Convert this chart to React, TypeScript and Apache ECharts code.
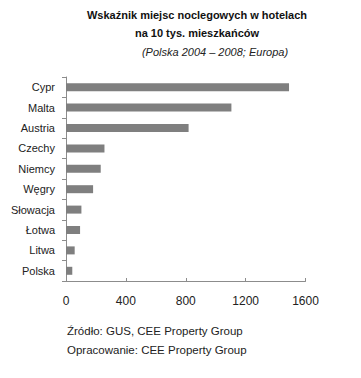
import React, { useEffect, useRef } from "react";
import * as echarts from "echarts";

const categories = ["Cypr", "Malta", "Austria", "Czechy", "Niemcy", "Węgry", "Słowacja", "Łotwa", "Litwa", "Polska"];
const values = [1490, 1105, 819, 257, 232, 181, 103, 94, 58, 42];
const titleLines = ["Wskaźnik miejsc noclegowych w hotelach", "na 10 tys. mieszkańców"];
const subtitle = "(Polska 2004 – 2008; Europa)";
const footerLines = ["Źródło: GUS, CEE Property Group", "Opracowanie: CEE Property Group"];

const FONT = "Liberation Sans";

export default function App() {
  const ref = useRef<HTMLDivElement>(null);
  useEffect(() => {
    if (!ref.current) return;
    const chart = echarts.init(ref.current, null, { renderer: "svg" });
    chart.setOption({
      animation: false,
      backgroundColor: "#ffffff",
      grid: { left: 66, right: 55.5, top: 77, bottom: 97, containLabel: false },
      xAxis: {
        type: "value",
        min: 0,
        max: 1600,
        interval: 400,
        axisLine: { show: true, lineStyle: { color: "#8c8c8c", width: 1 } },
        axisTick: { show: true, inside: true, length: 3, lineStyle: { color: "#8c8c8c" } },
        splitLine: { show: false },
        axisLabel: { color: "#222", fontFamily: FONT, fontSize: 12, margin: 14, formatter: (v: number) => String(v) },
      },
      yAxis: {
        type: "category",
        data: categories,
        inverse: true,
        axisLine: { show: true, lineStyle: { color: "#8c8c8c", width: 1 } },
        axisTick: { show: true, length: 4, lineStyle: { color: "#8c8c8c" } },
        axisLabel: { color: "#222", fontFamily: FONT, fontSize: 11, margin: 11 },
      },
      series: [
        {
          type: "bar",
          data: values,
          barWidth: 8,
          itemStyle: { color: "#7f7f7f" },
        },
      ],
      graphic: [
        { type: "text", x: 197, y: 15, style: { text: titleLines[0], fontFamily: FONT, fontSize: 11, fontWeight: "bold", fill: "#111", textAlign: "center", textVerticalAlign: "middle" } },
        { type: "text", x: 197, y: 33, style: { text: titleLines[1], fontFamily: FONT, fontSize: 11, fontWeight: "bold", fill: "#111", textAlign: "center", textVerticalAlign: "middle" } },
        { type: "text", x: 215, y: 52, style: { text: subtitle, fontFamily: FONT, fontSize: 11, fontStyle: "italic", fill: "#222", textAlign: "center", textVerticalAlign: "middle" } },
        { type: "text", x: 67, y: 331, style: { text: footerLines[0], fontFamily: FONT, fontSize: 11.5, fill: "#222", textAlign: "left", textVerticalAlign: "middle" } },
        { type: "text", x: 67, y: 350, style: { text: footerLines[1], fontFamily: FONT, fontSize: 11.5, fill: "#222", textAlign: "left", textVerticalAlign: "middle" } },
      ],
    });
    return () => chart.dispose();
  }, []);
  return <div ref={ref} style={{ width: 361, height: 378, position: "absolute", left: 0, top: 0 }} />;
}
